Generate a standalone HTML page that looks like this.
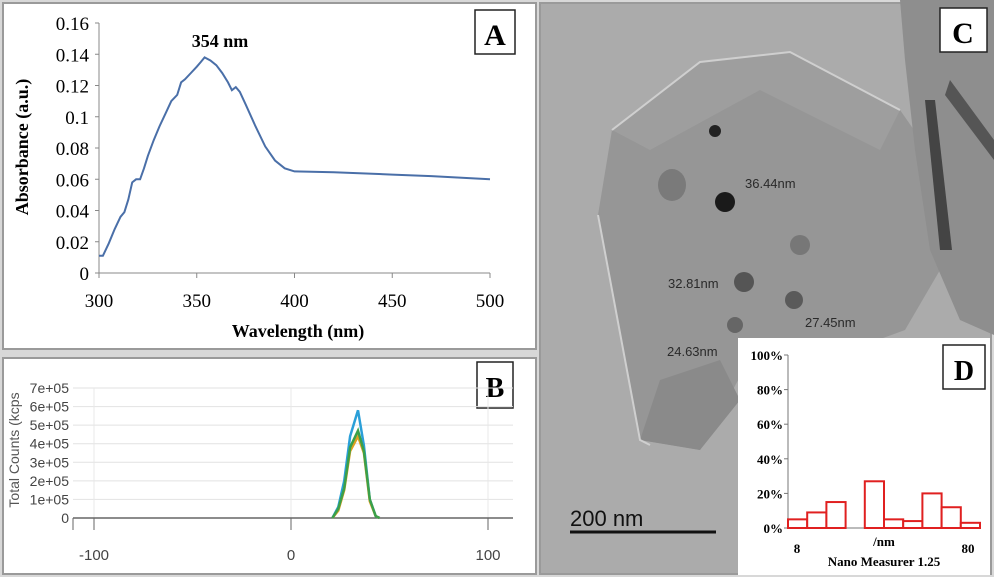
<!DOCTYPE html>
<html><head><meta charset="utf-8"><style>
html,body{margin:0;padding:0;background:#fff;width:994px;height:577px;overflow:hidden}
svg{display:block}
.serif{font-family:"Liberation Serif",serif}
.sans{font-family:"Liberation Sans",sans-serif}
</style></head><body>
<svg id="fig" width="994" height="577" viewBox="0 0 994 577" xmlns="http://www.w3.org/2000/svg">
<rect x="0" y="0" width="994" height="577" fill="#d8d8d8"/>
<!-- Panel A -->
<g id="panelA">
<rect x="3" y="3" width="533" height="346" fill="#fff" stroke="#9a9a9a" stroke-width="2"/>
<rect x="475" y="10" width="40" height="44" fill="#fff" stroke="#222" stroke-width="1.5"/>
<text x="495" y="45" text-anchor="middle" class="serif" font-weight="bold" font-size="30">A</text>
<text x="220" y="47" text-anchor="middle" class="serif" font-weight="bold" font-size="18">354 nm</text>
<text transform="translate(28,147) rotate(-90)" text-anchor="middle" class="serif" font-weight="bold" font-size="18">Absorbance  (a.u.)</text>
<text x="298" y="337" text-anchor="middle" class="serif" font-weight="bold" font-size="18">Wavelength  (nm)</text>
<g id="axesA"></g>
</g>
<!-- Panel B -->
<g id="panelB">
<rect x="3" y="358" width="533" height="216" fill="#fff" stroke="#9a9a9a" stroke-width="2"/>
<rect x="477" y="362" width="36" height="46" fill="#fff" stroke="#222" stroke-width="1.5"/>
<text x="495" y="397" text-anchor="middle" class="serif" font-weight="bold" font-size="28">B</text>
<text transform="translate(19,450) rotate(-90)" text-anchor="middle" class="sans" font-size="14" fill="#555">Total Counts (kcps</text>
<g id="axesB"></g>
</g>
<!-- Panel C -->
<g id="panelC">
<rect x="540" y="3" width="451" height="571" fill="#ababab" stroke="#9a9a9a" stroke-width="2"/>
<polygon points="612,130 700,62 790,52 900,110 935,160 940,270 905,330 850,350 760,340 700,450 640,440 598,215" fill="#969696"/>
<polygon points="612,130 700,62 790,52 900,110 880,150 760,90 650,150" fill="#9e9e9e"/>
<polygon points="640,440 700,450 740,400 720,360 660,380" fill="#8a8a8a"/>
<polyline points="598,215 640,440 650,445" fill="none" stroke="#cfcfcf" stroke-width="2"/>
<polyline points="612,130 700,62 790,52 900,110" fill="none" stroke="#cfcfcf" stroke-width="2"/>
<polygon points="900,0 994,0 994,335 960,320 930,250 915,150 905,60" fill="#8e8e8e"/>
<polygon points="925,100 935,100 952,250 940,250" fill="#444"/>
<polygon points="950,80 994,140 994,160 945,95" fill="#555"/>
<circle cx="955" cy="25" r="13" fill="#777"/>
<circle cx="715" cy="131" r="6" fill="#222"/>
<circle cx="725" cy="202" r="10" fill="#1a1a1a"/>
<ellipse cx="672" cy="185" rx="14" ry="16" fill="#7a7a7a"/>
<circle cx="744" cy="282" r="10" fill="#555"/>
<circle cx="794" cy="300" r="9" fill="#5a5a5a"/>
<circle cx="735" cy="325" r="8" fill="#666"/>
<circle cx="800" cy="245" r="10" fill="#777"/>
<text x="745" y="188" class="sans" font-size="13" fill="#2a2a2a">36.44nm</text>
<text x="668" y="288" class="sans" font-size="13" fill="#2a2a2a">32.81nm</text>
<text x="805" y="327" class="sans" font-size="13" fill="#2a2a2a">27.45nm</text>
<text x="667" y="356" class="sans" font-size="13" fill="#2a2a2a">24.63nm</text>
<rect x="940" y="8" width="47" height="44" fill="#fff" stroke="#222" stroke-width="1.5"/>
<text x="963" y="43" text-anchor="middle" class="serif" font-weight="bold" font-size="30">C</text>
<text x="570" y="526" class="sans" font-size="22" fill="#111">200 nm</text>
<line x1="570" y1="532" x2="716" y2="532" stroke="#111" stroke-width="3"/>
</g>
<!-- Panel D -->
<g id="panelD">
<rect x="738" y="338" width="252" height="237" fill="#fff"/>
<rect x="943" y="345" width="42" height="44" fill="#fff" stroke="#222" stroke-width="1.5"/>
<text x="964" y="380" text-anchor="middle" class="serif" font-weight="bold" font-size="28">D</text>
<text x="884" y="546" text-anchor="middle" class="serif" font-weight="bold" font-size="13">/nm</text>
<text x="884" y="566" text-anchor="middle" class="serif" font-weight="bold" font-size="13">Nano Measurer 1.25</text>
<g id="axesD"></g>
</g>
</svg>
<script>
// ---- Panel A data ----
const wavelengthsA = [300,302,305,308,311,313,315,317,319,321,323,325,328,331,334,337,340,342,344,347,350,352,354,357,360,363,366,368,370,372,375,380,385,390,395,400,420,450,470,500];
const absorbanceA = [0.011,0.011,0.019,0.028,0.036,0.039,0.047,0.058,0.060,0.060,0.067,0.075,0.085,0.094,0.102,0.110,0.114,0.122,0.124,0.128,0.132,0.135,0.138,0.136,0.133,0.128,0.122,0.117,0.119,0.116,0.108,0.094,0.081,0.072,0.067,0.065,0.0645,0.063,0.062,0.060];
const yTicksA = [0,0.02,0.04,0.06,0.08,0.1,0.12,0.14,0.16];
const yTickLabelsA = ["0","0.02","0.04","0.06","0.08","0.1","0.12","0.14","0.16"];
const xTicksA = [300,350,400,450,500];
// ---- Panel B data ----
const sizeB = [21,24,27,30,34,37,40,43,45];
const countsBlue = [0,0.6e5,2.0e5,4.4e5,5.8e5,3.9e5,1.0e5,0.1e5,0];
const countsOrange = [0,0.4e5,1.5e5,3.6e5,4.4e5,3.5e5,0.9e5,0.1e5,0];
const countsGreen = [0,0.5e5,1.6e5,3.8e5,4.7e5,3.6e5,1.0e5,0.1e5,0];
const yTicksB = [0,1e5,2e5,3e5,4e5,5e5,6e5,7e5];
const yTickLabelsB = ["0","1e+05","2e+05","3e+05","4e+05","5e+05","6e+05","7e+05"];
const xTicksB = [-100,0,100];
// ---- Panel D data ----
const binsD = [0,1,2,3,4,5,6,7,8,9];
const percentD = [5,9,15,0,27,5,4,20,12,3];
const yTicksD = [0,20,40,60,80,100];
const xTickLabelsD = ["8","80"];

const NS = "http://www.w3.org/2000/svg";
function mk(tag, attrs, parent, txt){const e=document.createElementNS(NS,tag);for(const k in attrs)e.setAttribute(k,attrs[k]);if(txt!==undefined)e.textContent=txt;parent.appendChild(e);return e;}

// Panel A
(function(){
const g=document.getElementById('axesA');
const xA=v=>99+(v-300)/200*391, yA=v=>273-v/0.16*250;
const ax=mk('line',{x1:99,y1:23,x2:99,y2:273,stroke:'#888','stroke-width':1},g);

const bx=mk('line',{x1:99,y1:273,x2:490,y2:273,stroke:'#888','stroke-width':1},g);

yTicksA.forEach((v,i)=>{mk('line',{x1:95,y1:yA(v),x2:99,y2:yA(v),stroke:'#888'},g);
const t=mk('text',{x:89,y:yA(v)+7,'text-anchor':'end','font-size':19,'font-family':'"Liberation Serif",serif'},g,yTickLabelsA[i]);
});
xTicksA.forEach(v=>{mk('line',{x1:xA(v),y1:273,x2:xA(v),y2:278,stroke:'#888'},g);
const t=mk('text',{x:xA(v),y:307,'text-anchor':'middle','font-size':19,'font-family':'"Liberation Serif",serif'},g,String(v));
});
const p=mk('polyline',{points:wavelengthsA.map((w,i)=>xA(w).toFixed(1)+','+yA(absorbanceA[i]).toFixed(1)).join(' '),fill:'none',stroke:'#4a6fa8','stroke-width':2},g);

})();

// Panel B
(function(){
const g=document.getElementById('axesB');
const xB=v=>291+v*1.97, yB=v=>518-v/7e5*130;
yTicksB.forEach((v,i)=>{if(v>0){mk('line',{x1:73,y1:yB(v),x2:513,y2:yB(v),stroke:'#e2e2e2'},g);}
const t=mk('text',{x:69,y:yB(v)+5,'text-anchor':'end','font-size':14,fill:'#444','font-family':'"Liberation Sans Narrow","Liberation Sans",sans-serif'},g,yTickLabelsB[i]);
});
xTicksB.forEach(v=>{mk('line',{x1:xB(v),y1:388,x2:xB(v),y2:518,stroke:'#e8e8e8'},g);
mk('line',{x1:xB(v),y1:518,x2:xB(v),y2:530,stroke:'#666'},g);
const t=mk('text',{x:xB(v),y:560,'text-anchor':'middle','font-size':15,fill:'#444','font-family':'"Liberation Sans",sans-serif'},g,String(v));
});
mk('line',{x1:73,y1:518,x2:73,y2:530,stroke:'#666'},g);
const ax=mk('line',{x1:73,y1:518,x2:513,y2:518,stroke:'#666','stroke-width':1.5},g);

[[countsBlue,'#2a9fd8','series-blue'],[countsOrange,'#e0a020','series-orange'],[countsGreen,'#3aa04a','series-green']].forEach(s=>{
const l=mk('polyline',{points:sizeB.map((x,i)=>xB(x).toFixed(1)+','+yB(s[0][i]).toFixed(1)).join(' '),fill:'none',stroke:s[1],'stroke-width':2.5},g);
});
})();

// Panel D
(function(){
const g=document.getElementById('axesD');
const x0=788,bw=19.2;
const yD=v=>528-v/100*173;
yTicksD.forEach(v=>{mk('line',{x1:784,y1:yD(v),x2:788,y2:yD(v),stroke:'#777'},g);
const t=mk('text',{x:783,y:yD(v)+5,'text-anchor':'end','font-size':13,'font-weight':'bold','font-family':'"Liberation Serif",serif'},g,v+'%');
});
mk('line',{x1:788,y1:355,x2:788,y2:528,stroke:'#777'},g);
const ax=mk('line',{x1:788,y1:528,x2:981,y2:528,stroke:'#777'},g);

binsD.forEach((b,i)=>{if(percentD[i]<=0)return;
const r=mk('rect',{x:x0+b*bw,y:yD(percentD[i]),width:bw,height:528-yD(percentD[i]),fill:'#fff',stroke:'#e02020','stroke-width':2},g);
});
[[797,xTickLabelsD[0]],[968,xTickLabelsD[1]]].forEach(a=>{const t=mk('text',{x:a[0],y:553,'text-anchor':'middle','font-size':13,'font-weight':'bold','font-family':'"Liberation Serif",serif'},g,a[1]);
});
})();
</script>
</body></html>
